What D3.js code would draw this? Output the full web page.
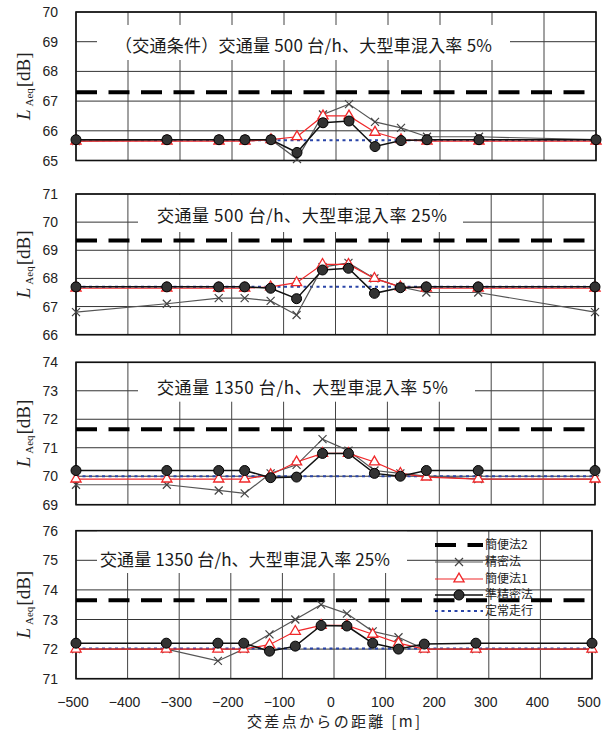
<!DOCTYPE html>
<html><head><meta charset="utf-8">
<script src="https://cdn.jsdelivr.net/npm/d3@7"></script>
<style>body{margin:0;background:#fff}svg{display:block}</style>
</head><body><svg id="c" width="611" height="731"></svg>
<script>
const distances = [-500,-325,-225,-175,-125,-75,-25,25,75,125,175,275,500];
const xTicks = [-500,-400,-300,-200,-100,0,100,200,300,400,500];
const panelTitles = [
  "（交通条件）交通量 500 台/h、大型車混入率 5%",
  "交通量 500 台/h、大型車混入率 25%",
  "交通量 1350 台/h、大型車混入率 5%",
  "交通量 1350 台/h、大型車混入率 25%"
];
const yDomains = [[65,70],[66,71],[69,74],[71,76]];
const simple2 = [67.3, 69.35, 71.65, 73.65];
const steady = [65.68, 67.7, 70.0, 72.02];
const precise1 = [65.65,65.7,65.7,65.7,65.7,65.05,66.55,66.9,66.3,66.1,65.8,65.8,65.7];
const simpleOne1 = [65.65,65.65,65.65,65.65,65.7,65.8,66.5,66.5,65.95,65.7,65.65,65.65,65.65];
const semi1 = [65.7,65.7,65.7,65.7,65.7,65.27,66.27,66.33,65.47,65.67,65.7,65.7,65.7];
const precise2 = [66.8,67.1,67.3,67.3,67.2,66.7,68.4,68.55,68.0,67.7,67.5,67.5,66.8];
const simpleOne2 = [67.65,67.65,67.65,67.65,67.7,67.85,68.5,68.5,68.0,67.7,67.65,67.65,67.65];
const semi2 = [67.7,67.7,67.7,67.7,67.65,67.28,68.3,68.36,67.47,67.67,67.7,67.7,67.7];
const precise3 = [69.7,69.7,69.5,69.4,70.1,70.4,71.3,70.9,70.2,70.1,70.0,69.9,69.9];
const simpleOne3 = [69.9,69.9,69.9,69.9,70.05,70.5,70.8,70.8,70.5,70.1,69.97,69.9,69.9];
const semi3 = [70.2,70.2,70.2,70.2,69.95,69.97,70.8,70.8,70.1,70.0,70.2,70.2,70.2];
const precise4 = [72.0,72.0,71.6,72.0,72.5,73.0,73.5,73.2,72.6,72.4,72.0,72.0,72.0];
const simpleOne4 = [72.0,72.0,72.0,72.0,72.15,72.6,72.8,72.8,72.5,72.2,72.0,72.0,72.0];
const semi4 = [72.2,72.2,72.2,72.2,71.93,72.1,72.8,72.78,72.2,72.0,72.17,72.2,72.2];
const legendLabels = ["簡便法2","精密法","簡便法1","準精密法","定常走行"];
const xAxisTitle = "交差点からの距離 [m]";

const preciseAll = [precise1,precise2,precise3,precise4];
const simpleOneAll = [simpleOne1,simpleOne2,simpleOne3,simpleOne4];
const semiAll = [semi1,semi2,semi3,semi4];

// layout
const layout = [
  {top:12, bottom:160.5, right:596, box:[97,25,510,60], tx:115, tw:377, ty:52},
  {top:194, bottom:334.7, right:595, box:[138,195,463,232], tx:157, tw:290, ty:222},
  {top:362.3, bottom:504.7, right:595, box:[138,363,475,401.7], tx:157, tw:291, ty:394},
  {top:530.7, bottom:678.7, right:592, box:[97,531,407,573], tx:100, tw:290, ty:566}
];
const left = 76;
const svg = d3.select("#c");
const numFont = "'Liberation Sans', Arial, sans-serif";
const jpFont = "'Noto Sans CJK JP', sans-serif";
const xMark = "M-4,-4L4,4M-4,4L4,-4";
const tri = d3.symbol().type(d3.symbolTriangle).size(45)();

layout.forEach((L, i) => {
  const g = svg.append("g");
  const x = d3.scaleLinear().domain([-500,500]).range([left, L.right]);
  const y = d3.scaleLinear().domain(yDomains[i]).range([L.bottom, L.top]);
  const yt = d3.range(yDomains[i][0], yDomains[i][1]+1);
  // grid
  g.selectAll(".hg").data(yt).join("line")
    .attr("x1", left).attr("x2", L.right).attr("y1", d=>y(d)).attr("y2", d=>y(d))
    .attr("stroke", "#333").attr("stroke-width", 1);
  g.selectAll(".vg").data(xTicks).join("line")
    .attr("x1", d=>x(d)).attr("x2", d=>x(d)).attr("y1", L.top).attr("y2", L.bottom)
    .attr("stroke", "#444").attr("stroke-width", 1);
  // title box
  g.append("rect").attr("x", L.box[0]).attr("y", L.box[1])
    .attr("width", L.box[2]-L.box[0]).attr("height", L.box[3]-L.box[1]).attr("fill", "#fff");
  g.append("text").attr("x", L.tx).attr("y", L.ty).text(panelTitles[i])
    .attr("textLength", L.tw).attr("lengthAdjust", "spacing")
    .attr("font-family", jpFont).attr("font-size", 17).attr("fill", "#1a1a1a");
  // frame
  g.append("rect").attr("x", left).attr("y", L.top).attr("width", L.right-left)
    .attr("height", L.bottom-L.top).attr("fill", "none").attr("stroke", "#111").attr("stroke-width", 1.6);
  // y ticks
  g.selectAll(".yl").data(yt).join("text")
    .attr("x", 58).attr("y", d=>y(d)).attr("dy", "0.36em").attr("text-anchor", "end")
    .attr("font-family", numFont).attr("font-size", 14).attr("fill", "#222").text(d=>d);
  // y label
  const yl = g.append("text")
    .attr("transform", `translate(30,${(L.top+L.bottom)/2}) rotate(-90)`)
    .attr("text-anchor", "middle").attr("font-family", "'Liberation Serif', 'Times New Roman', serif")
    .attr("font-size", 19).attr("fill", "#222");
  yl.append("tspan").attr("font-style", "italic").text("L");
  yl.append("tspan").attr("font-size", 11).attr("dy", 3).attr("dx", 3).text("Aeq");
  yl.append("tspan").attr("dy", -3).attr("dx", 1).text("[dB]");

  const line = d3.line().x((d,j)=>x(distances[j])).y(d=>y(d));
  // steady (blue dotted)
  g.append("line").attr("x1", left).attr("x2", L.right)
    .attr("y1", y(steady[i])).attr("y2", y(steady[i]))
    .attr("stroke", "#2a45a8").attr("stroke-width", 2).attr("stroke-dasharray", "3,3.5");
  // simple2 dashed
  g.append("line").attr("x1", left).attr("x2", L.right)
    .attr("y1", y(simple2[i])).attr("y2", y(simple2[i]))
    .attr("stroke", "#000").attr("stroke-width", 4).attr("stroke-dasharray", "21,11.5");
  // precise (gray x)
  g.append("path").attr("d", line(preciseAll[i])).attr("fill", "none")
    .attr("stroke", "#555").attr("stroke-width", 1.2);
  g.selectAll(".xm").data(preciseAll[i]).join("path")
    .attr("d", xMark).attr("transform", (d,j)=>`translate(${x(distances[j])},${y(d)})`)
    .attr("stroke", "#444").attr("stroke-width", 1.2).attr("fill", "none");
  // simple1 red
  g.append("path").attr("d", line(simpleOneAll[i])).attr("fill", "none")
    .attr("stroke", "#f0282a").attr("stroke-width", 1.2);
  g.selectAll(".tm").data(simpleOneAll[i]).join("path")
    .attr("d", tri).attr("transform", (d,j)=>`translate(${x(distances[j])},${y(d)})`)
    .attr("stroke", "#f0282a").attr("stroke-width", 1.3).attr("fill", "#fff");
  // semi precise black circles
  g.append("path").attr("d", line(semiAll[i])).attr("fill", "none")
    .attr("stroke", "#111").attr("stroke-width", 1.5);
  g.selectAll(".cm").data(semiAll[i]).join("circle")
    .attr("cx", (d,j)=>x(distances[j])).attr("cy", d=>y(d)).attr("r", 5)
    .attr("fill", "#333").attr("stroke", "#000").attr("stroke-width", 1);

  if (i === 3) {
    // x ticks
    g.selectAll(".xl").data(xTicks).join("text")
      .attr("x", d=>x(d)-3).attr("y", 707).attr("text-anchor", "middle")
      .attr("font-family", numFont).attr("font-size", 14).attr("fill", "#222")
      .text(d=>d3.format("d")(d).replace("-", "\u2212"));
    g.append("text").attr("x", 247).attr("y", 727)
      .attr("textLength", 173).attr("lengthAdjust", "spacing")
      .attr("font-family", jpFont).attr("font-size", 15).attr("fill", "#222").text(xAxisTitle);
    // legend
    const lx0 = 435, lx1 = 483, ly = [545, 562, 579, 595, 611];
    const lg = g.append("g");
    lg.append("line").attr("x1", lx0).attr("x2", lx1).attr("y1", ly[0]).attr("y2", ly[0])
      .attr("stroke", "#000").attr("stroke-width", 4).attr("stroke-dasharray", "21,11.5");
    lg.append("line").attr("x1", lx0).attr("x2", lx1).attr("y1", ly[1]).attr("y2", ly[1])
      .attr("stroke", "#555").attr("stroke-width", 1.2);
    lg.append("path").attr("d", xMark).attr("transform", `translate(${(lx0+lx1)/2},${ly[1]})`)
      .attr("stroke", "#444").attr("stroke-width", 1.2);
    lg.append("line").attr("x1", lx0).attr("x2", lx1).attr("y1", ly[2]).attr("y2", ly[2])
      .attr("stroke", "#f0282a").attr("stroke-width", 1.2);
    lg.append("path").attr("d", tri).attr("transform", `translate(${(lx0+lx1)/2},${ly[2]})`)
      .attr("stroke", "#f0282a").attr("stroke-width", 1.3).attr("fill", "#fff");
    lg.append("line").attr("x1", lx0).attr("x2", lx1).attr("y1", ly[3]).attr("y2", ly[3])
      .attr("stroke", "#111").attr("stroke-width", 1.5);
    lg.append("circle").attr("cx", (lx0+lx1)/2).attr("cy", ly[3]).attr("r", 5)
      .attr("fill", "#333").attr("stroke", "#000");
    lg.append("line").attr("x1", lx0).attr("x2", lx1).attr("y1", ly[4]).attr("y2", ly[4])
      .attr("stroke", "#2a45a8").attr("stroke-width", 2).attr("stroke-dasharray", "3,3.5");
    lg.selectAll(".lt").data(legendLabels).join("text")
      .attr("x", 485).attr("y", (d,k)=>ly[k]).attr("dy", "0.36em")
      .attr("font-family", jpFont).attr("font-size", 12).attr("fill", "#222").text(d=>d);
  }
});
</script></body></html>
